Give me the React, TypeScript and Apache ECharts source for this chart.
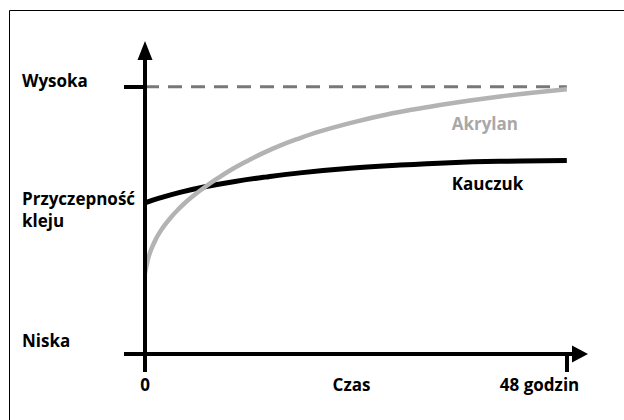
import React, { useEffect, useRef } from "react";
import * as echarts from "echarts";

// Time (hours) and adhesion (0 = low, 100 = high)
const HOURS_KAUCZUK = [0, 1.71, 3.98, 6.83, 10.24, 13.65, 17.63, 23.32, 29.01, 34.7, 40.39, 48];
const KAUCZUK = [56.6, 58.4, 60.5, 62.6, 64.6, 66.2, 67.8, 69.5, 70.7, 71.6, 72.1, 72.4];

const HOURS_AKRYLAN = [
  0, 0.23, 0.46, 0.8, 1.25, 1.71, 2.28, 2.96, 3.75, 4.66, 5.69, 6.83, 8.19, 9.67,
  11.49, 13.42, 15.36, 17.29, 19.91, 23.32, 26.73, 30.15, 33.56, 36.98, 40.39, 43.8, 48,
];
const AKRYLAN = [
  30.3, 34.0, 36.9, 39.9, 43.1, 45.7, 48.4, 51.2, 54.0, 56.9, 59.7, 62.5, 65.6, 68.7,
  72.0, 75.2, 78.0, 80.4, 83.3, 86.4, 89.1, 91.3, 93.2, 94.9, 96.4, 97.7, 99.1,
];

const HIGH_LEVEL = [[0, 100], [48, 100]];

const X_TICKS = [0, 48];
const X_LABEL_VALUES = [0, 23.5, 44.9];
const X_LABEL_TEXTS = ["0", "Czas", "48 godzin"];

const Y_TICKS = [0, 100];
const Y_LABEL_VALUES = [102.2, 53.9, 4.9];
const Y_LABEL_TEXTS = ["Wysoka", "Przyczepność\nkleju", "Niska"];

const SERIES_LABELS = [
  { name: "Akrylan", coord: [34.9, 86.3], color: "#a8a8a8" },
  { name: "Kauczuk", coord: [34.9, 63.9], color: "#000000" },
];

const FONT = "'Open Sans', 'Noto Sans', sans-serif";

function pick(values: number[], texts: string[], v: number) {
  for (let i = 0; i < values.length; i++) {
    if (Math.abs(values[i] - v) < 0.01) return texts[i];
  }
  return "";
}

export default function App() {
  const ref = useRef<HTMLDivElement>(null);
  useEffect(() => {
    if (!ref.current) return;
    const chart = echarts.init(ref.current, undefined, { renderer: "svg" });
    const labelStyle = {
      fontFamily: FONT,
      fontWeight: "bold" as const,
      fontSize: 17,
      color: "#000",
    };
    const mk = (i: number) => ({
      symbol: "rect",
      symbolSize: 0,
      silent: true,
      data: [
        {
          coord: SERIES_LABELS[i].coord,
          label: {
            show: true,
            position: "right",
            distance: 0,
            formatter: SERIES_LABELS[i].name,
            ...labelStyle,
            color: SERIES_LABELS[i].color,
          },
        },
      ],
    });
    chart.setOption({
      animation: false,
      backgroundColor: "#ffffff",
      grid: {
        left: 145,
        right: 44,
        top: 50.5,
        bottom: 66,
        containLabel: false,
        outerBoundsMode: "none",
      },
      xAxis: {
        type: "value",
        min: 0,
        max: 49.5,
        z: 5,
        splitLine: { show: false },
        axisLine: {
          show: true,
          onZero: false,
          lineStyle: { color: "#000", width: 4 },
          symbol: ["none", "triangle"],
          symbolSize: [17, 16],
        },
        axisTick: {
          show: true,
          customValues: X_TICKS,
          length: 18,
          lineStyle: { color: "#000", width: 4 },
        },
        axisLabel: {
          show: true,
          customValues: X_LABEL_VALUES,
          formatter: (v: number) => pick(X_LABEL_VALUES, X_LABEL_TEXTS, v),
          margin: 22,
          lineHeight: 17,
          ...labelStyle,
        },
      },
      yAxis: {
        type: "value",
        min: 0,
        max: 113.6,
        z: 5,
        splitLine: { show: false },
        axisLine: {
          show: true,
          onZero: false,
          lineStyle: { color: "#000", width: 4 },
          symbol: ["none", "triangle"],
          symbolSize: [15, 19],
        },
        axisTick: {
          show: true,
          customValues: Y_TICKS,
          length: 21,
          lineStyle: { color: "#000", width: 4 },
        },
        axisLabel: {
          show: true,
          customValues: Y_LABEL_VALUES,
          formatter: (v: number) => pick(Y_LABEL_VALUES, Y_LABEL_TEXTS, v),
          align: "left",
          margin: 123,
          lineHeight: 22,
          ...labelStyle,
        },
      },
      series: [
        {
          type: "line",
          name: "Wysoka",
          data: HIGH_LEVEL,
          symbol: "none",
          silent: true,
          z: 1,
          lineStyle: { color: "#787878", width: 3, type: [14, 9] },
        },
        {
          type: "line",
          name: "Kauczuk",
          data: HOURS_KAUCZUK.map((h, i) => [h, KAUCZUK[i]]),
          symbol: "none",
          smooth: 0.4,
          silent: true,
          z: 2,
          lineStyle: { color: "#000", width: 5 },
          markPoint: mk(1),
        },
        {
          type: "line",
          name: "Akrylan",
          data: HOURS_AKRYLAN.map((h, i) => [h, AKRYLAN[i]]),
          symbol: "none",
          smooth: 0.4,
          silent: true,
          z: 3,
          lineStyle: { color: "#b3b3b3", width: 4.5 },
          markPoint: mk(0),
        },
      ],
      graphic: [
        {
          type: "line",
          shape: { x1: 9.5, y1: 10.5, x2: 624, y2: 10.5 },
          style: { stroke: "#000", lineWidth: 1 },
          silent: true,
        },
        {
          type: "line",
          shape: { x1: 9.5, y1: 10.5, x2: 9.5, y2: 420 },
          style: { stroke: "#000", lineWidth: 1 },
          silent: true,
        },
      ],
    });
    return () => chart.dispose();
  }, []);
  return (
    <div
      ref={ref}
      style={{ position: "absolute", left: 0, top: 0, width: 624, height: 420 }}
    />
  );
}
